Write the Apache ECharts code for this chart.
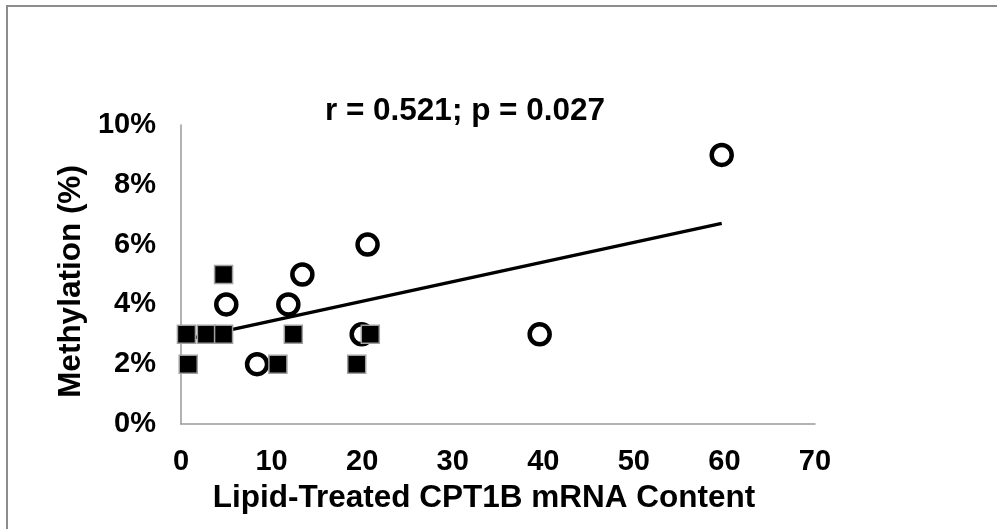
<!DOCTYPE html>
<html>
<head>
<meta charset="utf-8">
<script src="https://cdn.jsdelivr.net/npm/echarts@6/dist/echarts.min.js"></script>
<style>
html,body{margin:0;padding:0;background:#fff;}
#chart{width:997px;height:529px;}
</style>
</head>
<body>
<div id="chart"></div>
<script>
// Data
var squareX = [4.7, 0.6, 2.8, 4.7, 12.4, 20.9, 0.8, 10.7, 19.4];
var squareY = [5, 3, 3, 3, 3, 3, 2, 2, 2];
var circleX = [5.0, 11.85, 13.4, 8.4, 19.95, 20.6, 39.6, 59.7];
var circleY = [4, 4, 5, 2, 3, 6, 3, 9];
var trendX = [0.6, 59.7];
var trendY = [2.83, 6.71];
var xTicks = [0, 10, 20, 30, 40, 50, 60, 70];
var yTicks = [0, 2, 4, 6, 8, 10];
var annotation = 'r = 0.521; p = 0.027';
var xTitle = 'Lipid-Treated CPT1B mRNA Content';
var yTitle = 'Methylation (%)';

function zip(a, b) { return a.map(function (v, i) { return [v, b[i]]; }); }

var FONT = 'Liberation Sans, Arial, sans-serif';
var chart = echarts.init(document.getElementById('chart'));
chart.setOption({
  backgroundColor: '#fff',
  animation: false,
  grid: { left: 181, right: 182, top: 125, bottom: 105, containLabel: false },
  xAxis: {
    type: 'value',
    min: xTicks[0], max: xTicks[xTicks.length - 1], interval: 10,
    name: xTitle, nameLocation: 'middle', nameGap: 58,
    nameTextStyle: { fontFamily: FONT, fontWeight: 'bold', fontSize: 31.5, color: '#000', padding: [0, 28, 0, 0] },
    axisLine: { show: true, lineStyle: { color: '#9a9a9a', width: 1.5 } },
    axisTick: { show: false },
    splitLine: { show: false },
    axisLabel: { margin: 23, fontFamily: FONT, fontWeight: 'bold', fontSize: 29, color: '#000' }
  },
  yAxis: {
    type: 'value',
    min: yTicks[0], max: yTicks[yTicks.length - 1], interval: 2,
    name: yTitle, nameLocation: 'middle', nameGap: 91, nameRotate: 90,
    nameTextStyle: { fontFamily: FONT, fontWeight: 'bold', fontSize: 31.5, color: '#000', padding: [0, 14, 0, 0] },
    axisLine: { show: true, lineStyle: { color: '#9a9a9a', width: 1.5 } },
    axisTick: { show: false },
    splitLine: { show: false },
    axisLabel: { margin: 25, formatter: '{value}%', fontFamily: FONT, fontWeight: 'bold', fontSize: 29, color: '#000' }
  },
  graphic: [
    { type: 'polyline', silent: true, shape: { points: [[7, 529], [7, 6], [997, 6]] },
      style: { stroke: '#8c8c8c', lineWidth: 2, fill: null } },
    { type: 'text', silent: true, style: {
        text: annotation, fontFamily: FONT, fontWeight: 'bold', fontSize: 31.5, fill: '#000',
        x: 465, y: 111, align: 'center', verticalAlign: 'middle' } }
  ],
  series: [
    { type: 'line', data: zip(trendX, trendY), showSymbol: false, symbol: 'none',
      lineStyle: { color: '#000', width: 3.5 }, z: 1, silent: true },
    { type: 'scatter', data: zip(circleX, circleY), symbol: 'circle', symbolSize: 20,
      itemStyle: { color: 'rgba(255,255,255,0)', borderColor: '#000', borderWidth: 4.5, opacity: 1 }, z: 2 },
    { type: 'scatter', data: zip(squareX, squareY), symbol: 'rect', symbolSize: 18,
      itemStyle: { color: '#000', borderColor: '#a0a0a0', borderWidth: 1.5, opacity: 1 }, z: 3 }
  ]
});
</script>
</body>
</html>
